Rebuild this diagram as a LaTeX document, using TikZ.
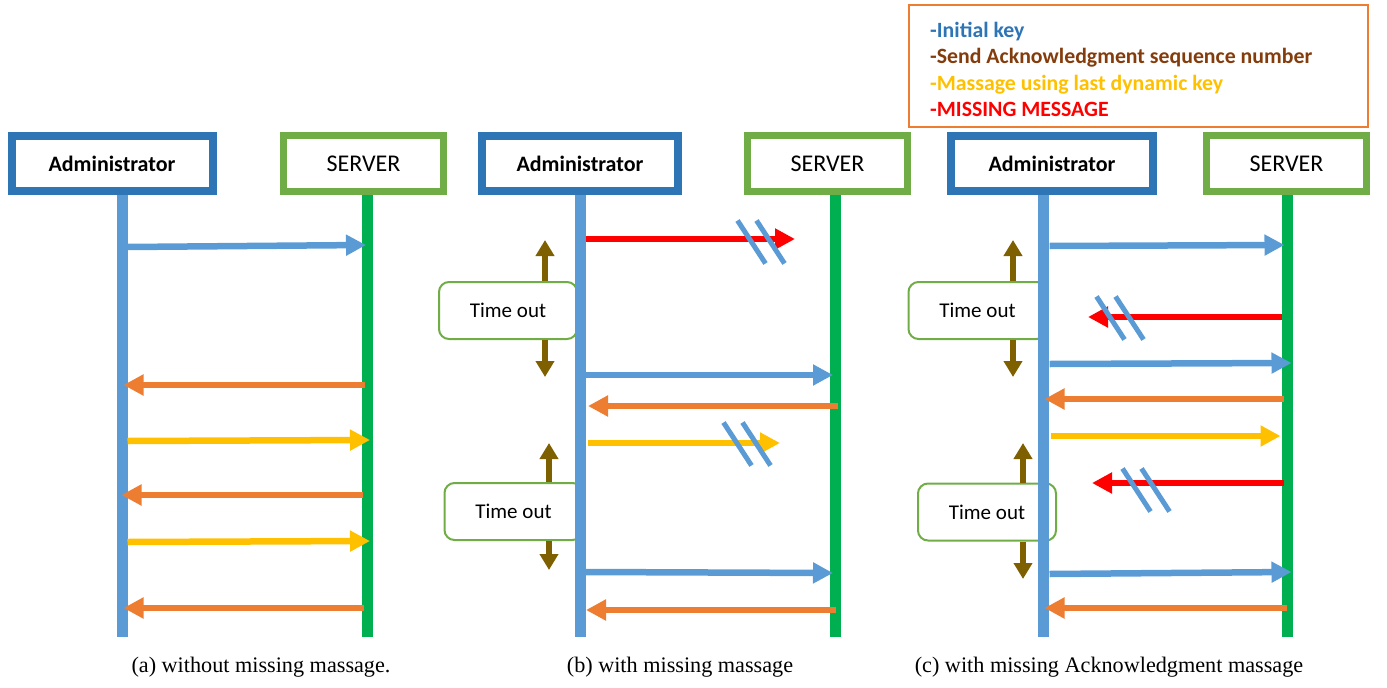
\documentclass[tikz,border=0pt]{standalone}
\usepackage{fontspec}
\setmainfont{Carlito}
\newfontfamily\capfont{Liberation Serif}
\usetikzlibrary{arrows.meta}
\definecolor{admblue}{HTML}{2E75B6}
\definecolor{lineblue}{HTML}{5B9BD5}
\definecolor{srvgreen}{HTML}{70AD47}
\definecolor{lifegreen}{HTML}{00B050}
\definecolor{ackorange}{HTML}{ED7D31}
\definecolor{msgyellow}{HTML}{FFC000}
\definecolor{missred}{HTML}{FF0000}
\definecolor{tobrown}{HTML}{7F6000}
\definecolor{legbrown}{HTML}{843C0C}
\tikzset{
  admbox/.style={draw=admblue, line width=8pt, fill=white, minimum width=201pt, minimum height=55pt, inner sep=0pt, font=\bfseries\fontsize{22}{24}\selectfont},
  srvbox/.style={draw=srvgreen, line width=7pt, fill=white, minimum width=160pt, minimum height=56pt, inner sep=0pt, font=\fontsize{24}{26}\selectfont},
  lifeA/.style={lineblue, line width=11pt},
  lifeS/.style={lifegreen, line width=11pt},
  msg/.style={line width=6.5pt, -{Triangle[length=20pt,width=20pt]}},
  initkey/.style={msg, lineblue},
  ackmsg/.style={msg, ackorange},
  dynmsg/.style={msg, msgyellow},
  lostmsg/.style={msg, missred},
  brk/.style={lineblue, line width=5pt},
  tobox/.style={draw=srvgreen, line width=2pt, rounded corners=10pt, fill=white, minimum width=138pt, minimum height=57pt, inner sep=0pt, font=\fontsize{21}{24}\selectfont},
  toarr/.style={tobrown, line width=6pt, -{Triangle[length=16pt,width=18pt]}},
  legbox/.style={draw=ackorange, line width=2pt, minimum width=459pt, minimum height=122pt, inner sep=0pt},
  legtext/.style={align=left, inner sep=0pt, font=\bfseries\fontsize{21.8}{26.3}\selectfont},
  captext/.style={inner sep=0pt, font=\capfont\fontsize{22.2}{24}\selectfont}
}
\begin{document}
\begin{tikzpicture}[x=1pt, y=-1pt]
\useasboundingbox (0,0) rectangle (1387,688);

% ---------- legend ----------
\node[legbox] (leg) at (1138.5,66) {};
\node[legtext, anchor=west] (legt) at (930,69.5) {%
  \textcolor{admblue}{-Initial key}\\
  \textcolor{legbrown}{-Send Acknowledgment sequence number}\\
  \textcolor{msgyellow}{-Massage using last dynamic key}\\
  \textcolor{missred}{-MISSING MESSAGE}};

% ---------- headers ----------
\node[admbox] (A1) at (112,163.5) {Administrator};
\node[srvbox] (S1) at (363.5,163.5) {SERVER};
\node[admbox, minimum width=196pt] (A2) at (580,163.5) {Administrator};
\node[srvbox] (S2) at (827.5,163.5) {SERVER};
\node[admbox, minimum width=202pt] (A3) at (1052,163.5) {Administrator};
\node[srvbox] (S3) at (1286.5,163.5) {SERVER};

% lifeline coordinates
\coordinate (LA1) at (122.5,195);  \coordinate (LA1e) at (122.5,637);
\coordinate (LS1) at (367,195);      \coordinate (LS1e) at (367,637);
\coordinate (LA2) at (580,195);    \coordinate (LA2e) at (580,637);
\coordinate (LS2) at (835,195);      \coordinate (LS2e) at (835,637);
\coordinate (LA3) at (1043.5,195); \coordinate (LA3e) at (1043.5,637);
\coordinate (LS3) at (1287.5,195);   \coordinate (LS3e) at (1287.5,637);

% ---------- time-out boxes (behind lifelines) ----------
\node[tobox] (T1) at (508,310.5) {Time out};
\node[tobox] (T2) at (513.5,511.5) {Time out};
\node[tobox] (T3) at (977.5,310.5) {Time out};
\node[tobox] (T4) at (987,512) {Time out};
\coordinate (T1a) at (545,240); \coordinate (T1b) at (545,377);
\coordinate (T2a) at (549,443); \coordinate (T2b) at (549,570);
\coordinate (T3a) at (1013,240); \coordinate (T3b) at (1013,377);
\coordinate (T4a) at (1023,443); \coordinate (T4b) at (1023,579);
\draw[toarr] (T1.north -| T1a) -- (T1a);
\draw[toarr] (T1.south -| T1b) -- (T1b);
\draw[toarr] (T2.north -| T2a) -- (T2a);
\draw[toarr] (T2.south -| T2b) -- (T2b);
\draw[toarr] (T3.north -| T3a) -- (T3a);
\draw[toarr] (T3.south -| T3b) -- (T3b);
\draw[toarr] (T4.north -| T4a) -- (T4a);
\draw[toarr] (T4.south -| T4b) -- (T4b);

% ---------- lifelines ----------
\draw[lifeA] (LA1) -- (LA1e);
\draw[lifeS] (LS1) -- (LS1e);
\draw[lifeA] (LA2) -- (LA2e);
\draw[lifeS] (LS2) -- (LS2e);
\draw[lifeA] (LA3) -- (LA3e);
\draw[lifeS] (LS3) -- (LS3e);

% ---------- panel (a) ----------
\draw[initkey] ([xshift=5pt]LA1 |- 0,247) -- ([xshift=-1pt]LS1 |- 0,245);
\draw[ackmsg]  ([xshift=-2pt]LS1 |- 0,385) -- ([xshift=1pt]LA1 |- 0,385);
\draw[dynmsg]  ([xshift=5pt]LA1 |- 0,441) -- ([xshift=3pt]LS1 |- 0,440);
\draw[ackmsg]  ([xshift=-4pt]LS1 |- 0,495) -- ([xshift=-1pt]LA1 |- 0,495);
\draw[dynmsg]  ([xshift=5pt]LA1 |- 0,542) -- ([xshift=3pt]LS1 |- 0,541);
\draw[ackmsg]  ([xshift=-3pt]LS1 |- 0,608) -- ([xshift=1pt]LA1 |- 0,608);

% ---------- panel (b) ----------
\coordinate (Rb1) at (795,239);
\coordinate (Yb1) at (780,443);
\draw[lostmsg] ([xshift=6pt]LA2 |- Rb1) -- (Rb1);
\draw[initkey] ([xshift=6pt]LA2 |- 0,375) -- ([xshift=-2pt]LS2 |- 0,375);
\draw[ackmsg]  ([xshift=3pt]LS2 |- 0,406) -- ([xshift=8pt]LA2 |- 0,406);
\draw[dynmsg]  ([xshift=8pt]LA2 |- Yb1) -- (Yb1);
\draw[initkey] ([xshift=6pt]LA2 |- 0,572) -- ([xshift=-2pt]LS2 |- 0,573);
\draw[ackmsg]  ([xshift=1pt]LS2 |- 0,610) -- ([xshift=6pt]LA2 |- 0,610);
\coordinate (Mb1) at (761,242);
\draw[brk] (Mb1) +(-23.5,-21.5) -- +(4.5,21.5) (Mb1) +(-4.5,-21.5) -- +(23.5,21.5);
\coordinate (Mb2) at (747,444);
\draw[brk] (Mb2) +(-23.5,-21.5) -- +(4.5,21.5) (Mb2) +(-4.5,-21.5) -- +(23.5,21.5);

% ---------- panel (c) ----------
\coordinate (Rc1) at (1088,317);
\coordinate (Rc2) at (1092,483);
\draw[initkey] ([xshift=6pt]LA3 |- 0,246) -- ([xshift=-3pt]LS3 |- 0,245);
\draw[lostmsg] ([xshift=-6pt]LS3 |- Rc1) -- (Rc1);
\draw[initkey] ([xshift=6pt]LA3 |- 0,364) -- ([xshift=4pt]LS3 |- 0,363);
\draw[ackmsg]  ([xshift=-4pt]LS3 |- 0,399) -- ([xshift=1pt]LA3 |- 0,399);
\draw[dynmsg]  ([xshift=7pt]LA3 |- 0,436) -- ([xshift=-7pt]LS3 |- 0,436);
\draw[lostmsg] ([xshift=-4pt]LS3 |- Rc2) -- (Rc2);
\draw[initkey] ([xshift=6pt]LA3 |- 0,574) -- ([xshift=4pt]LS3 |- 0,572);
\draw[ackmsg]  ([xshift=-1pt]LS3 |- 0,608) -- ([xshift=1pt]LA3 |- 0,608);
\coordinate (Mc1) at (1120,318);
\draw[brk] (Mc1) +(-23.5,-21.5) -- +(4.5,21.5) (Mc1) +(-4.5,-21.5) -- +(23.5,21.5);
\coordinate (Mc2) at (1146,490);
\draw[brk] (Mc2) +(-23.5,-21.5) -- +(4.5,21.5) (Mc2) +(-4.5,-21.5) -- +(23.5,21.5);

% ---------- captions ----------
\node[captext] (ca) at (261,667) {(a) without missing massage.};
\node[captext] (cb) at (680,667) {(b) with missing massage};
\node[captext] (cc) at (1109,667) {(c) with missing Acknowledgment massage};
\end{tikzpicture}
\end{document}
